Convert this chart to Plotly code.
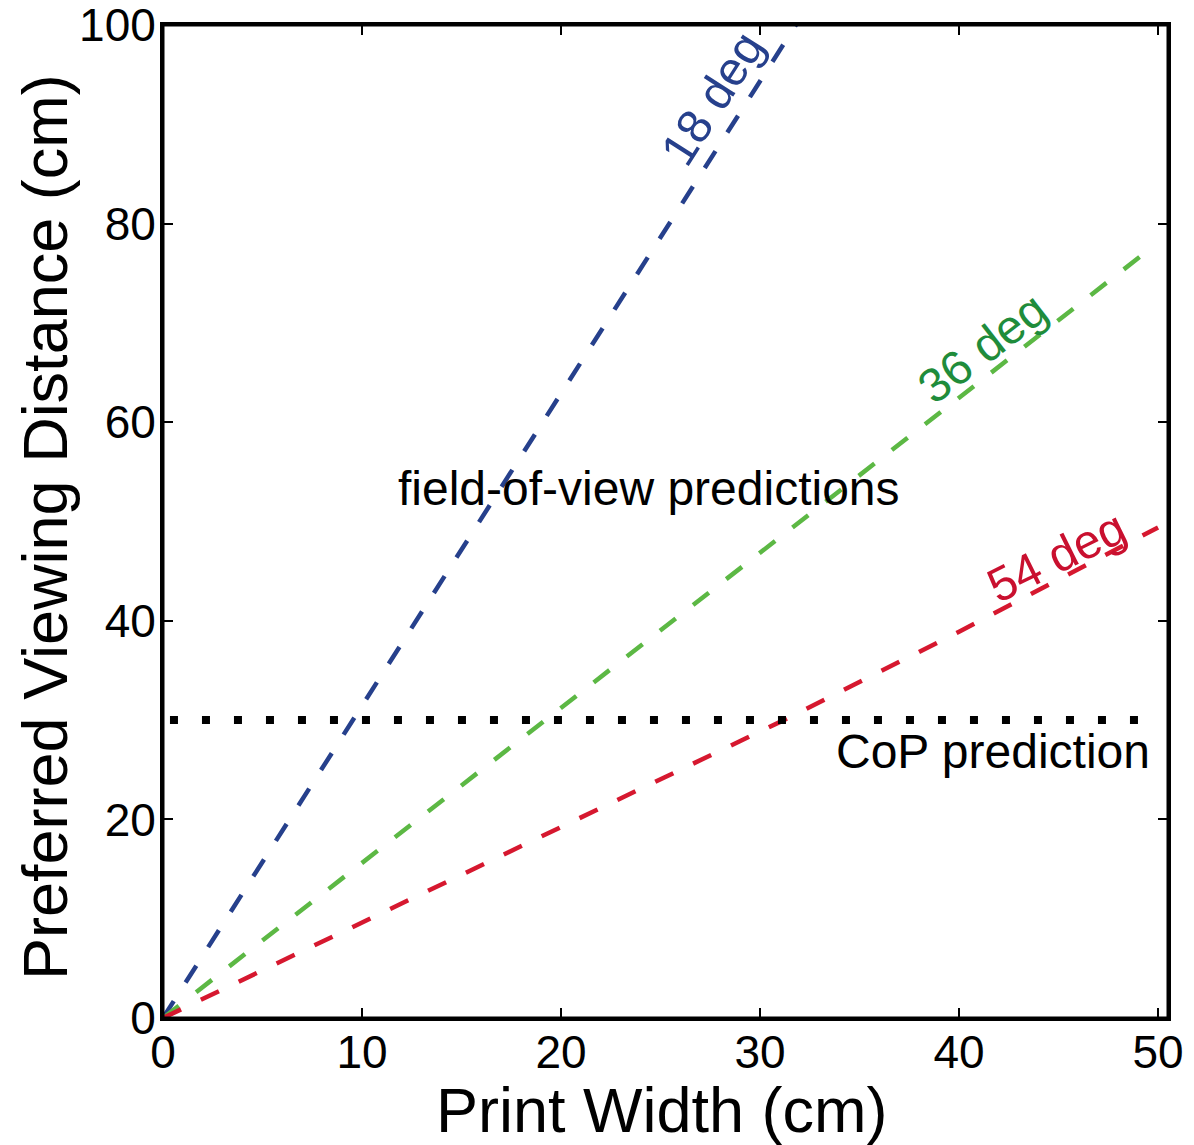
import plotly.graph_objects as go

# Field-of-view prediction lines (print width in cm -> preferred viewing distance in cm)
width_18 = [0, 31.8]
dist_18 = [0, 100]

width_36 = [0, 19.2, 49.5]
dist_36 = [0, 30, 77.3]

width_54 = [0, 10, 20, 31.2, 40, 50]
dist_54 = [0, 9.6, 19.3, 30, 38.9, 49.4]

# Centre-of-projection prediction (constant distance)
cop_width = [0.35, 49.0]
cop_dist = [30, 30]

x_ticks = [0, 10, 20, 30, 40, 50]
y_ticks = [0, 20, 40, 60, 80, 100]
x_range = [0, 50.5]
y_range = [0, 100]

FONT = "Liberation Sans, Arial, Helvetica, sans-serif"
BLUE, BLUE_TXT = "#26408c", "#26408c"
GREEN, GREEN_TXT = "#5cb844", "#1f8c3b"
RED, RED_TXT = "#d6182f", "#c9102f"

fig = go.Figure()

dash = "20px,22px"
for xs, ys, col in [(width_18, dist_18, BLUE),
                    (width_36, dist_36, GREEN),
                    (width_54, dist_54, RED)]:
    fig.add_trace(go.Scatter(x=xs, y=ys, mode="lines",
                             line=dict(color=col, width=4.5, dash=dash),
                             hoverinfo="skip", showlegend=False))

fig.add_trace(go.Scatter(x=cop_width, y=cop_dist, mode="lines",
                         line=dict(color="black", width=8, dash="8px,24px"),
                         hoverinfo="skip", showlegend=False))

# invisible trace that activates the top axis (for the top tick marks)
fig.add_trace(go.Scatter(x=[None], y=[None], xaxis="x2", mode="lines",
                         hoverinfo="skip", showlegend=False))

annotations = [
    dict(x=27.6, y=92.6, text="18 deg", textangle=-57.4, font=dict(color=BLUE_TXT, size=48)),
    dict(x=41.2, y=67.5, text="36 deg", textangle=-37.6, font=dict(color=GREEN_TXT, size=48)),
    dict(x=44.9, y=46.5, text="54 deg", textangle=-26.3, font=dict(color=RED_TXT, size=48)),
    dict(x=24.4, y=53.3, text="field-of-view predictions", font=dict(color="black", size=48)),
    dict(x=49.7, y=26.8, text="CoP prediction", xanchor="right", font=dict(color="black", size=48)),
]
for a in annotations:
    a.setdefault("xanchor", "center")
    a.update(xref="x", yref="y", yanchor="middle", showarrow=False)
    a["font"]["family"] = FONT
    fig.add_annotation(**a)

# Axis titles
fig.add_annotation(xref="paper", yref="paper", x=0.4965, y=-0.0927,
                   text="Print Width (cm)", showarrow=False,
                   xanchor="center", yanchor="middle",
                   font=dict(family=FONT, size=63, color="black"))
fig.add_annotation(xref="paper", yref="paper", x=-0.1174, y=0.4945,
                   text="Preferred Viewing Distance (cm)", showarrow=False,
                   textangle=-90, xanchor="center", yanchor="middle",
                   font=dict(family=FONT, size=63, color="black"))

# Box frame around the plotting area
fig.add_shape(type="rect", xref="paper", yref="paper", x0=0, x1=1, y0=0, y1=1,
              line=dict(color="black", width=3), layer="above")

axis_common = dict(showgrid=False, zeroline=False, showline=True,
                   linecolor="black", linewidth=3, mirror="ticks",
                   ticks="inside", ticklen=10, tickwidth=2, tickcolor="black",
                   automargin=False, ticklabeloverflow="allow",
                   tickfont=dict(family=FONT, size=46, color="black"))

fig.update_layout(
    xaxis=dict(range=x_range, tickvals=x_ticks, ticklabelstandoff=-8,
               ticktext=[str(v) for v in x_ticks], **axis_common),
    yaxis=dict(range=y_range, tickvals=y_ticks, ticklabelstandoff=-5,
               ticktext=[str(v) for v in y_ticks], **axis_common),
    xaxis2=dict(range=x_range, tickvals=x_ticks, overlaying="x", side="top",
                showticklabels=False, showgrid=False, zeroline=False,
                showline=False, ticks="inside", ticklen=10, tickwidth=2,
                tickcolor="black", automargin=False),
)

fig.update_layout(width=1194, height=1145,
                  margin=dict(l=163, r=26, t=25, b=127),
                  plot_bgcolor="white", paper_bgcolor="white",
                  font=dict(family=FONT))

fig.write_html("out.html")
